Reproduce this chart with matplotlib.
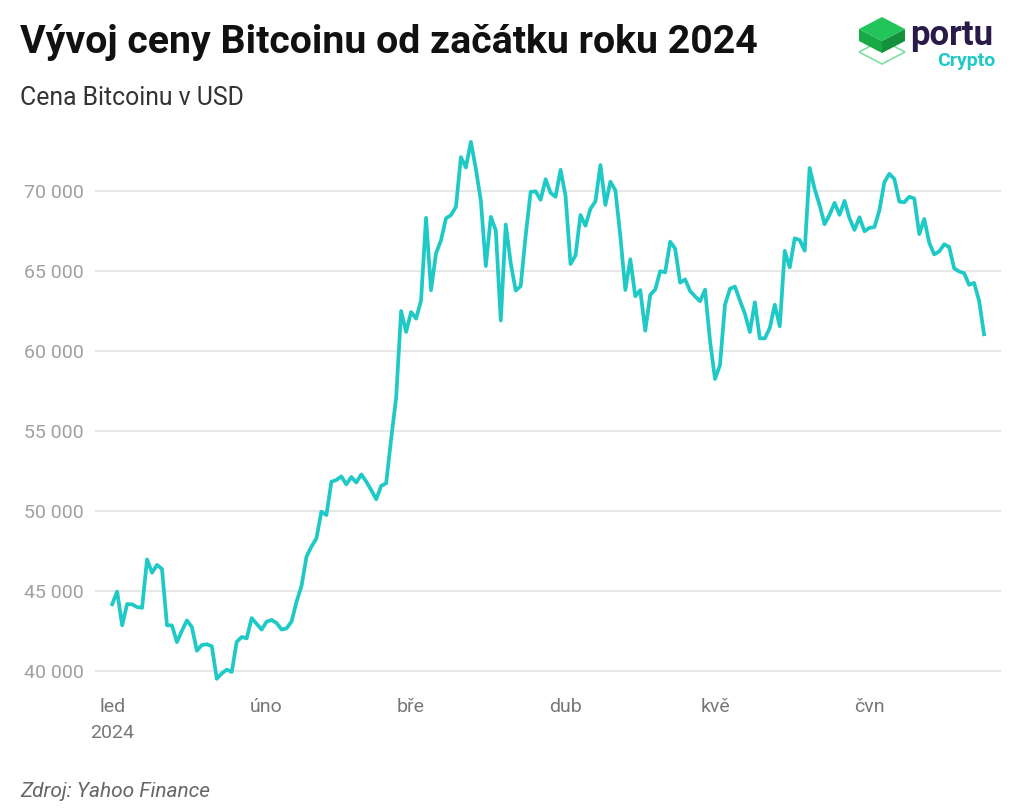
import pandas as pd
import matplotlib.pyplot as plt
from matplotlib.patches import Polygon
from matplotlib.ticker import FuncFormatter

plt.rcParams['font.family'] = ['Roboto', 'DejaVu Sans']

start_date = '2024-01-01'
# daily close, USD
prices = [
    44167, 44957, 42848, 44179, 44162, 43989, 43943, 46970, 46139, 46627,
    46368, 42853, 42842, 41796, 42511, 43154, 42742, 41262, 41618, 41665,
    41545, 39507, 39845, 40077, 39934, 41816, 42120, 42036, 43300, 42946,
    42582,
    43075, 43185, 42992, 42584, 42659, 43085, 44318, 45301, 47147, 47771,
    48293, 49958, 49742, 51826, 51938, 52160, 51663, 52122, 51779, 52284,
    51839, 51304, 50731, 51571, 51733, 54522, 57085, 62504, 61198,
    62440, 62029, 63167, 68330, 63801, 66106, 66925, 68300, 68498, 69019,
    72123, 71481, 73083, 71396, 69403, 65315, 68391, 67548, 61912, 67913,
    65491, 63779, 64062, 67234, 69958, 69987, 69455, 70744, 69892, 69645,
    71334,
    69702, 65446, 65980, 68508, 67837, 68896, 69362, 71631, 69139, 70587,
    70060, 67195, 63821, 65738, 63426, 63811, 61276, 63512, 63843, 64994,
    64926, 66837, 66407, 64276, 64482, 63755, 63420, 63114, 63842, 60637,
    58254, 59123, 62889, 63892, 64031, 63162, 62334, 61188, 63049, 60793,
    60794, 61448, 62901, 61553, 66267, 65232, 67051, 66940, 66278, 71448,
    70136, 69122, 67929, 68526, 69266, 68518, 69394, 68296, 67578, 68365,
    67491,
    67706, 67751, 68805, 70567, 71082, 70757, 69342, 69305, 69648, 69540,
    67314, 68263, 66774, 66043, 66229, 66676, 66505, 65174, 64974, 64869,
    64144, 64262, 63161, 61050,
]
y_ticks = [40000, 45000, 50000, 55000, 60000, 65000, 70000]
month_labels = ['led\n2024', 'úno', 'bře', 'dub', 'kvě', 'čvn']

dates = pd.date_range(start_date, periods=len(prices), freq='D')
month_starts = pd.date_range(start_date, periods=len(month_labels), freq='MS')

fig = plt.figure(figsize=(10.24, 8.1), dpi=100)
ax = fig.add_axes([0.093, 0.152, 0.885, 0.691])

ax.plot(dates, prices, color='#1fcac6', linewidth=2.7, solid_joinstyle='round')

ax.set_ylim(39000, 74000)
ax.set_xlim(dates[0] - pd.Timedelta(days=3.4), dates[0] + pd.Timedelta(days=178.5))
ax.set_yticks(y_ticks)
ax.yaxis.set_major_formatter(FuncFormatter(lambda v, p: f'{int(v):,}'.replace(',', ' ')))
ax.set_xticks(month_starts)
ax.set_xticklabels(month_labels, linespacing=1.6)

ax.grid(axis='y', color='#e3e3e3', linewidth=1.2)
ax.set_axisbelow(True)
for s in ax.spines.values():
    s.set_visible(False)
ax.tick_params(axis='y', length=0, labelsize=14, labelcolor='#a0a0a0', pad=8)
ax.tick_params(axis='x', length=0, labelsize=14, labelcolor='#777777', pad=8)

# titles
fig.text(0.02, 0.948, 'Vývoj ceny Bitcoinu od začátku roku 2024', fontsize=28.3,
         fontweight='bold', color='#111111', va='center')
fig.text(0.02, 0.879, 'Cena Bitcoinu v USD', fontsize=17.8, color='#333333', va='center')
fig.text(0.02, 0.023, 'Zdroj: Yahoo Finance', fontsize=15, style='italic',
         color='#666666', va='center')

# logo
def fp(x, y):
    return (x / 1024, 1 - y / 810)

fig.add_artist(Polygon([fp(859, 52), fp(882, 40), fp(905, 52), fp(882, 64)], closed=True,
                       fill=False, edgecolor='#7ee0a0', linewidth=1.2, transform=fig.transFigure))
fig.add_artist(Polygon([fp(859, 29), fp(882, 41), fp(882, 53), fp(859, 41)], closed=True,
                       facecolor='#19a846', edgecolor='none', transform=fig.transFigure))
fig.add_artist(Polygon([fp(882, 41), fp(905, 29), fp(905, 41), fp(882, 53)], closed=True,
                       facecolor='#13913b', edgecolor='none', transform=fig.transFigure))
fig.add_artist(Polygon([fp(859, 29), fp(882, 17), fp(905, 29), fp(882, 41)], closed=True,
                       facecolor='#22c55a', edgecolor='none', transform=fig.transFigure))
fig.text(0.889, 1 - 45 / 810, 'portu', fontsize=25, fontweight='bold', color='#2a1a4a',
         va='baseline')
fig.text(0.915, 1 - 66 / 810, 'Crypto', fontsize=14, fontweight='bold', color='#1fcac6',
         va='baseline')

fig.savefig('out.png', dpi=100)
